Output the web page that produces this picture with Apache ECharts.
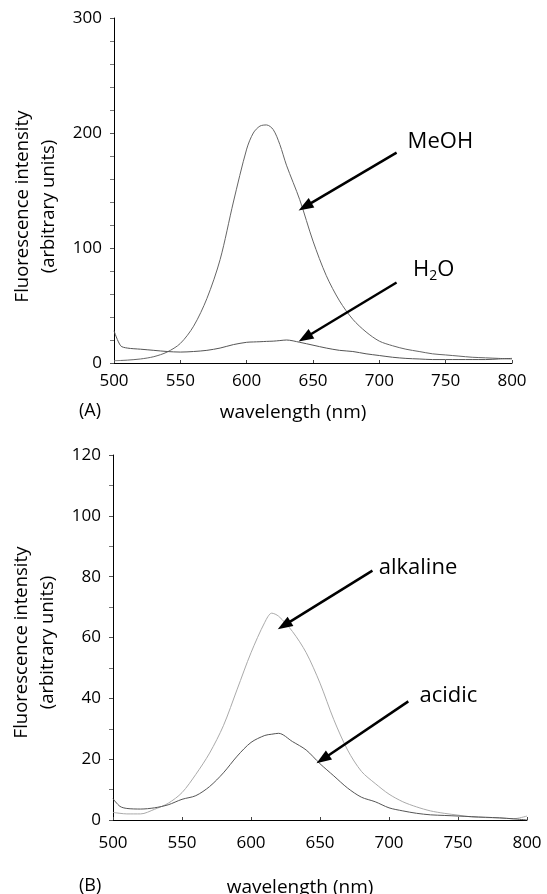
<!DOCTYPE html>
<html>
<head>
<meta charset="utf-8">
<script src="https://cdn.jsdelivr.net/npm/echarts@6/dist/echarts.min.js"></script>
<style>
  html, body { margin: 0; background: #fff; }
  #chart { width: 547px; height: 894px; }
</style>
</head>
<body>
<div id="chart"></div>
<script>
// (A) solvent spectra
var wavelengthA = [500, 505, 510, 520, 530, 540, 550, 560, 570, 580, 590, 600, 605, 610, 615, 620, 625, 630,
  640, 650, 660, 670, 680, 690, 700, 710, 720, 730, 740, 750, 760, 770, 780, 790, 800];
var meoh = [2, 2.2, 2.5, 3.5, 5.5, 9.5, 17, 32, 56, 90, 140, 186, 200, 206, 207, 203, 190, 172,
  142, 106, 76, 54, 38, 27, 19, 15, 12, 10, 8, 7, 6, 5, 4.5, 4, 3.5];
var h2o = [28, 15, 13, 12, 11, 10, 9.5, 10, 11, 13, 16, 18, 18.3, 18.5, 18.8, 19, 19.5, 20,
  18, 15.5, 13, 11, 10, 8, 6.5, 5, 4, 3.5, 3, 3, 3, 3, 3, 3.5, 4];

// (B) pH spectra
var wavelengthB = [500, 505, 510, 520, 530, 540, 550, 560, 570, 580, 590, 600, 610, 615, 620, 630,
  640, 650, 660, 670, 680, 690, 700, 710, 720, 730, 740, 750, 760, 770, 780, 790, 800];
var alkaline = [2.5, 2.2, 2, 2, 3.5, 5.5, 9, 15, 22, 31, 43, 55, 65, 68, 67, 62,
  55, 45, 33, 23, 16, 12, 8.5, 6, 4.3, 3, 2.2, 1.6, 1, 0.8, 0.7, 0.4, 1.3];
var acidic = [7, 4.5, 3.8, 3.6, 4, 5, 6.8, 8, 11, 15.5, 21, 25.5, 27.8, 28.2, 28.5, 25.8,
  23, 18.5, 14.5, 10.5, 7.5, 6, 4, 3, 2.2, 1.7, 1.5, 1.3, 1.1, 0.9, 0.7, 0.4, 0];

var xTicks = [500, 800, 50];
var yTicksA = [0, 300, 100];
var yTicksB = [0, 120, 20];

// labels + arrows, in data units
var notesA = [
  { text: 'MeOH', at: [746, 192], from: [713, 183], to: [644, 136] },
  { text: '{a|H}{s|2}{a|O}', at: [741, 81], from: [713, 70], to: [644, 22] }
];
var notesB = [
  { text: 'alkaline', at: [721, 83], from: [688, 82], to: [624, 64] },
  { text: 'acidic', at: [743, 41], from: [714, 39], to: [652, 20] }
];

var font = '"Open Sans", "Noto Sans", sans-serif';
var ink = '#000';

function pairs(xs, ys) {
  return xs.map(function (x, i) { return [x, ys[i]]; });
}

function xAxisOpt(idx, margin, gap) {
  return {
    type: 'value', gridIndex: idx,
    min: xTicks[0], max: xTicks[1], interval: xTicks[2],
    name: 'wavelength (nm)', nameLocation: 'middle', nameGap: gap,
    nameTextStyle: { fontFamily: font, fontSize: 19, color: ink, padding: [0, 40, 0, 0] },
    axisLine: { onZero: false, lineStyle: { color: '#000', width: 1 } },
    axisTick: { show: true, inside: true, length: 3, lineStyle: { color: '#444' } },
    axisLabel: { fontFamily: font, fontSize: 17, color: ink, margin: margin },
    splitLine: { show: false }
  };
}

function yAxisOpt(idx, ticks, minorSplit, shift) {
  return {
    type: 'value', gridIndex: idx,
    min: ticks[0], max: ticks[1], interval: ticks[2],
    name: 'Fluorescence intensity\n(arbitrary units)',
    nameLocation: 'middle', nameGap: 52, nameRotate: 90,
    nameTextStyle: { fontFamily: font, fontSize: 18.5, color: ink, lineHeight: 26, padding: [0, shift, 0, 0] },
    axisLine: { show: true, lineStyle: { color: '#000', width: 1 } },
    axisTick: { show: true, length: 4, lineStyle: { color: '#555' } },
    minorTick: { show: true, splitNumber: minorSplit, length: 4, lineStyle: { color: '#777' } },
    axisLabel: { fontFamily: font, fontSize: 17, color: ink, margin: 12 },
    splitLine: { show: false }
  };
}

function notes(list) {
  return {
    markLine: {
      silent: true, animation: false,
      symbol: ['none', 'triangle'], symbolSize: [11, 15],
      lineStyle: { color: '#000', width: 2.5, type: 'solid' },
      label: { show: false },
      data: list.map(function (n) { return [{ coord: n.from }, { coord: n.to }]; })
    },
    markPoint: {
      silent: true, animation: false,
      symbol: 'circle', symbolSize: 0,
      data: list.map(function (n) {
        return {
          coord: n.at,
          label: {
            show: true, position: 'inside', formatter: n.text,
            fontFamily: font, fontSize: 22, color: ink,
            rich: {
              a: { fontFamily: font, fontSize: 22, color: ink, lineHeight: 26 },
              s: { fontFamily: font, fontSize: 14, color: ink, lineHeight: 14, verticalAlign: 'bottom' }
            }
          }
        };
      })
    }
  };
}

function line(name, xi, data, color, extra) {
  var s = {
    name: name, type: 'line', xAxisIndex: xi, yAxisIndex: xi,
    data: data, showSymbol: false, smooth: 0.3,
    lineStyle: { color: color, width: 1 }, z: 3
  };
  if (extra) { Object.assign(s, extra); }
  return s;
}

var chart = echarts.init(document.getElementById('chart'));
chart.setOption({
  animation: false,
  backgroundColor: '#fff',
  title: [
    { text: '(A)', left: 74, top: 397, textStyle: { fontFamily: font, fontSize: 18, fontWeight: 'normal', color: ink } },
    { text: '(B)', left: 74, top: 872, textStyle: { fontFamily: font, fontSize: 18, fontWeight: 'normal', color: ink } }
  ],
  grid: [
    { left: 114, top: 18, right: 35, height: 345, containLabel: false, outerBoundsMode: 'none' },
    { left: 113, top: 455, right: 20, height: 365, containLabel: false, outerBoundsMode: 'none' }
  ],
  xAxis: [xAxisOpt(0, 10, 40), xAxisOpt(1, 15, 58)],
  yAxis: [yAxisOpt(0, yTicksA, 5, 32), yAxisOpt(1, yTicksB, 2, 10)],
  series: [
    line('MeOH', 0, pairs(wavelengthA, meoh), '#666', notes(notesA)),
    line('H2O', 0, pairs(wavelengthA, h2o), '#555'),
    line('alkaline', 1, pairs(wavelengthB, alkaline), '#aaa', notes(notesB)),
    line('acidic', 1, pairs(wavelengthB, acidic), '#555')
  ]
});
</script>
</body>
</html>
